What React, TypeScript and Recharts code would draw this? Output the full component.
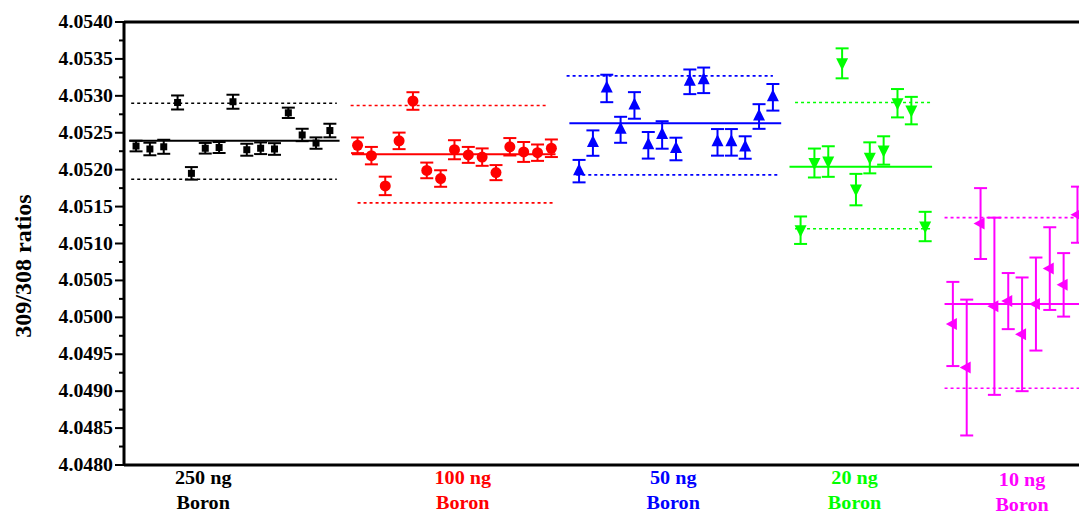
import React from "react";
import { ScatterChart, Scatter, XAxis, YAxis, ErrorBar, ReferenceLine } from "recharts";

// measured 309/308 ratios, one array per boron load
const ng250 = [4.05232, 4.05228, 4.05231, 4.05291, 4.05195, 4.05229, 4.0523, 4.05292, 4.05227, 4.05229, 4.05228, 4.05277, 4.05247, 4.05236, 4.05253];
const ng250Err = [0.000072, 0.000085, 0.000095, 0.000095, 0.000085, 0.000072, 0.000074, 0.000095, 0.000081, 0.000079, 0.000079, 0.00007, 0.000084, 0.000077, 0.000092];

const ng100 = [4.05233, 4.05219, 4.05178, 4.05239, 4.05293, 4.05199, 4.05188, 4.05227, 4.0522, 4.05217, 4.05196, 4.05231, 4.05224, 4.05223, 4.05229];
const ng100Err = [0.000106, 0.000118, 0.000125, 0.000112, 0.000119, 0.000106, 0.000112, 0.000129, 0.000108, 0.000118, 0.000102, 0.000118, 0.000135, 0.000111, 0.000119];

const ng50 = [4.05198, 4.05236, 4.0531, 4.05254, 4.05287, 4.05233, 4.05247, 4.05228, 4.05319, 4.05321, 4.05237, 4.05237, 4.0523, 4.05272, 4.05298];
const ng50Err = [0.000152, 0.000172, 0.000186, 0.000176, 0.00018, 0.00018, 0.000186, 0.000153, 0.000167, 0.000173, 0.00018, 0.00018, 0.000152, 0.000167, 0.00018];

const ng20 = [4.05118, 4.05209, 4.05211, 4.05344, 4.05173, 4.05216, 4.05226, 4.0529, 4.0528, 4.05123];
const ng20Err = [0.000186, 0.000196, 0.000207, 0.000203, 0.000213, 0.00021, 0.000192, 0.000192, 0.000186, 0.000199];

const ng10 = [4.04991, 4.04932, 4.05127, 4.05015, 4.05022, 4.04977, 4.05018, 4.05066, 4.05044, 4.05139];
const ng10Err = [0.00057, 0.00092, 0.00048, 0.0012, 0.00038, 0.00077, 0.00063, 0.00056, 0.00043, 0.00038];

// run number of the first measurement in each group
const firstRun = [1, 17, 33, 49, 60];

// mean and +-2SD per group, and the run range each line spans
const means = [4.05239, 4.05221, 4.05263, 4.05204, 4.05018];
const upper = [4.0529, 4.05287, 4.05327, 4.05291, 4.05135];
const lower = [4.05187, 4.05155, 4.05193, 4.0512, 4.04904];
const meanSpan = [[0.5, 15.7], [16.6, 31.3], [32.3, 47.6], [48.2, 58.5], [59.4, 72]];
const upperSpan = [[0.65, 15.5], [16.5, 30.7], [32.1, 47], [48.6, 58.5], [59.4, 72]];
const lowerSpan = [[0.65, 15.5], [17, 31.3], [32.8, 47.5], [48.6, 58.5], [59.4, 72]];

const groupNames = ["250 ng", "100 ng", "50 ng", "20 ng", "10 ng"];
const groupTicks = [5.85, 24.6, 39.8, 52.9, 65];
const colors = ["#000000", "#ff0000", "#0000ff", "#00ff00", "#ff00ff"];

const majorTicks = [4.048, 4.0485, 4.049, 4.0495, 4.05, 4.0505, 4.051, 4.0515, 4.052, 4.0525, 4.053, 4.0535, 4.054];
const minorTicks = [4.04825, 4.04875, 4.04925, 4.04975, 4.05025, 4.05075, 4.05125, 4.05175, 4.05225, 4.05275, 4.05325, 4.05375];

const FONT = "'Liberation Serif', 'Times New Roman', serif";

const groups = [
  { vals: ng250, errs: ng250Err },
  { vals: ng100, errs: ng100Err },
  { vals: ng50, errs: ng50Err },
  { vals: ng20, errs: ng20Err },
  { vals: ng10, errs: ng10Err },
].map((g, gi) => g.vals.map((v, i) => ({ x: firstRun[gi] + i, y: v, err: g.errs[i] })));

const square = (p: any) => <rect x={p.cx - 3.5} y={p.cy - 3.5} width={7} height={7} fill="#000" />;
const circle = (p: any) => <circle cx={p.cx} cy={p.cy} r={5.5} fill="#ff0000" />;
const triUp = (p: any) => (
  <polygon points={`${p.cx},${p.cy - 8} ${p.cx - 6},${p.cy + 4} ${p.cx + 6},${p.cy + 4}`} fill="#0000ff" />
);
const triDown = (p: any) => (
  <polygon points={`${p.cx},${p.cy + 7} ${p.cx - 6},${p.cy - 5} ${p.cx + 6},${p.cy - 5}`} fill="#00ff00" />
);
const triLeft = (p: any) => (
  <polygon points={`${p.cx - 7},${p.cy} ${p.cx + 4},${p.cy - 6} ${p.cx + 4},${p.cy + 6}`} fill="#ff00ff" />
);
const shapes = [square, circle, triUp, triDown, triLeft];

const YTick = (props: any) => {
  const { x, y, payload } = props;
  const major = majorTicks.includes(payload.value);
  if (!major) return <line x1={x - 5} x2={x} y1={y} y2={y} stroke="#000" strokeWidth={2} />;
  return (
    <g>
      <line x1={x - 9} x2={x} y1={y} y2={y} stroke="#000" strokeWidth={2} />
      <text
        transform={`translate(${x - 11},${y + 6}) scale(1.1,1)`}
        textAnchor="end"
        fontFamily={FONT}
        fontWeight="bold"
        fontSize={18}
        fill="#000"
      >
        {payload.value.toFixed(4)}
      </text>
    </g>
  );
};

const XTick = (props: any) => {
  const { x, y, index } = props;
  const dy = index === 4 ? 2 : 0;
  return (
    <g>
      <text transform={`translate(${x},${y + 19 + dy}) scale(1.12,1)`} textAnchor="middle" fontFamily={FONT} fontWeight="bold" fontSize={18} fill={colors[index]}>
        {groupNames[index]}
      </text>
      <text transform={`translate(${x},${y + 44 + dy}) scale(1.12,1)`} textAnchor="middle" fontFamily={FONT} fontWeight="bold" fontSize={18} fill={colors[index]}>
        Boron
      </text>
    </g>
  );
};

const YLabel = () => (
  <text transform="translate(31,266) rotate(-90)" textAnchor="middle" fontFamily={FONT} fontWeight="bold" fontSize={24} fill="#000">
    309/308 ratios
  </text>
);

export default function App() {
  return (
    <div style={{ position: "fixed", left: 0, top: 0, width: 1079, height: 514, overflow: "hidden", background: "#fff" }}>
      <ScatterChart width={1119} height={514} margin={{ top: 22, right: 0, bottom: 0, left: 0 }}>
        <XAxis
          type="number"
          dataKey="x"
          domain={[0.13, 72]}
          allowDataOverflow
          ticks={groupTicks}
          interval={0}
          tick={<XTick />}
          tickLine={false}
          tickSize={0}
          tickMargin={0}
          height={49}
          axisLine={{ stroke: "#000", strokeWidth: 3 }}
        />
        <YAxis
          type="number"
          dataKey="y"
          domain={[4.048, 4.054]}
          allowDataOverflow
          ticks={[...majorTicks, ...minorTicks].sort((a, b) => a - b)}
          interval={0}
          tick={<YTick />}
          tickLine={false}
          tickSize={0}
          tickMargin={0}
          width={124}
          axisLine={{ stroke: "#000", strokeWidth: 3 }}
          label={<YLabel />}
        />
        <ReferenceLine y={4.054} stroke="#000" strokeWidth={3} />
        {colors.map((c, i) => (
          <ReferenceLine
            key={"m" + i}
            segment={[{ x: meanSpan[i][0], y: means[i] }, { x: meanSpan[i][1], y: means[i] }]}
            stroke={c}
            strokeWidth={2}
          />
        ))}
        {colors.map((c, i) => (
          <ReferenceLine
            key={"u" + i}
            segment={[{ x: upperSpan[i][0], y: upper[i] }, { x: upperSpan[i][1], y: upper[i] }]}
            stroke={c}
            strokeWidth={1.6}
            strokeDasharray="3 3"
          />
        ))}
        {colors.map((c, i) => (
          <ReferenceLine
            key={"l" + i}
            segment={[{ x: lowerSpan[i][0], y: lower[i] }, { x: lowerSpan[i][1], y: lower[i] }]}
            stroke={c}
            strokeWidth={1.6}
            strokeDasharray="3 3"
          />
        ))}
        {groups.map((data, i) => (
          <Scatter key={i} data={data} fill={colors[i]} shape={shapes[i]} isAnimationActive={false}>
            <ErrorBar dataKey="err" direction="y" width={6.5} stroke={colors[i]} strokeWidth={2} isAnimationActive={false} />
          </Scatter>
        ))}
      </ScatterChart>
    </div>
  );
}
